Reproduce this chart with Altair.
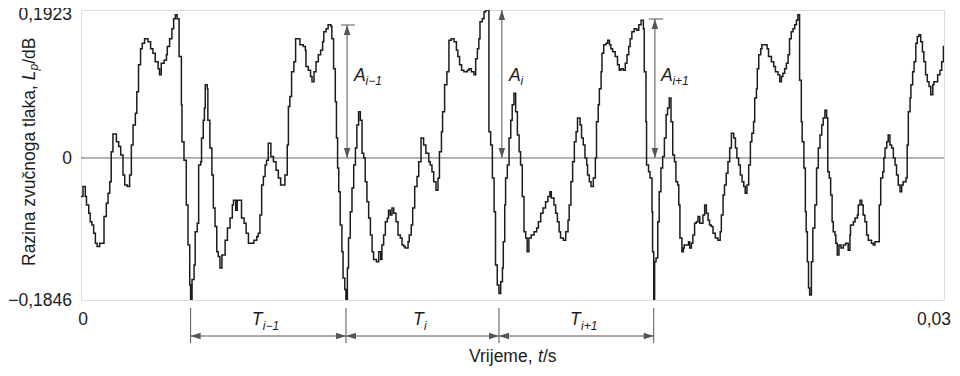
import altair as alt
import pandas as pd

# ---------------- waveform samples (time in ms, level in dB) ----------------
t_a = [0.00,0.07,0.15,0.19,0.27,0.32,0.38,0.44,0.50,0.56,0.65,0.80,0.88,0.94,1.00,1.05,1.11,1.23,1.31,1.38,
       1.46,1.52,1.61,1.69,1.75,1.81,1.89,1.94,2.00,2.07,2.13,2.21,2.33,2.42,2.50,2.58,2.68,2.73,2.79,2.89,
       2.97,3.00,3.08,3.16,3.22,3.28,3.34,3.41,3.49,3.51,3.58,3.66,3.72,3.78,3.81,3.86,3.93,3.97,4.04,4.09,4.16]
L_a = [-0.050,-0.037,-0.050,-0.061,-0.072,-0.083,-0.087,-0.098,-0.111,-0.115,-0.111,-0.076,-0.059,-0.046,-0.031,
       0.008,0.031,0.021,0.015,0.004,-0.022,-0.035,-0.037,-0.022,0.017,0.043,0.058,0.086,0.121,0.142,0.149,0.155,
       0.151,0.142,0.136,0.125,0.116,0.108,0.123,0.127,0.134,0.145,0.155,0.168,0.181,0.186,0.181,0.132,0.069,0.021,
       -0.003,-0.061,-0.113,-0.165,-0.1846,-0.158,-0.139,-0.096,-0.085,-0.009,-0.005]

t_b = [4.19,4.25,4.29,4.32,4.39,4.41,4.48,4.55,4.60,4.66,4.72,4.77,4.83,4.90,5.01,5.09,5.18,5.26,5.30,5.38,
       5.43,5.58,5.67,5.74,5.82,6.01,6.11,6.16,6.22,6.28,6.34,6.40,6.45,6.51,6.60,6.69,6.78,6.86,6.94,7.09,
       7.17,7.21,7.26,7.32,7.40,7.46,7.61,7.73,7.80,7.82,7.90,7.98,8.03,8.10,8.17,8.25,8.33,8.40]
L_b = [0.026,0.049,0.065,0.095,0.090,0.049,0.013,-0.022,-0.065,-0.089,-0.122,-0.128,-0.143,-0.126,-0.107,-0.091,
       -0.078,-0.061,-0.055,-0.068,-0.055,-0.078,-0.085,-0.098,-0.111,-0.107,-0.102,-0.098,-0.074,-0.035,-0.024,
       -0.009,-0.003,0.019,0.002,-0.005,-0.016,-0.026,-0.035,-0.022,0.017,0.067,0.080,0.112,0.125,0.155,0.147,
       0.145,0.140,0.119,0.114,0.106,0.099,0.112,0.125,0.134,0.140,0.151]

t_c = [8.44,8.52,8.59,8.69,8.72,8.78,8.84,8.88,8.92,8.96,9.01,9.07,9.11,9.17,9.21,9.26,9.30,9.36,9.42,9.48,
       9.54,9.59,9.65,9.71,9.77,9.83,9.88,9.94,10.00,10.06,10.12,10.17,10.27,10.35,10.42,10.46,10.52,10.58,10.65,
       10.69,10.75,10.81,10.87,10.95,11.02,11.10,11.16,11.22,11.27,11.37,11.41,11.48,11.53,11.60,11.68,11.74,
       11.82,11.91,11.99,12.09,12.14,12.20,12.26,12.34,12.41,12.46,12.53,12.57,12.64,12.72]
L_c = [0.164,0.168,0.173,0.171,0.155,0.116,0.073,0.026,-0.013,-0.044,-0.087,-0.122,-0.156,-0.171,-0.1846,
       -0.143,-0.104,-0.070,-0.039,-0.009,0.013,0.043,0.060,0.049,0.006,0.000,-0.031,-0.057,-0.078,-0.100,
       -0.122,-0.132,-0.135,-0.122,-0.132,-0.113,-0.100,-0.083,-0.078,-0.068,-0.074,-0.065,-0.072,-0.083,-0.100,
       -0.104,-0.113,-0.115,-0.117,-0.109,-0.100,-0.087,-0.065,-0.037,-0.024,-0.005,0.026,0.017,0.006,-0.005,
       -0.009,-0.018,-0.031,-0.042,-0.026,0.008,0.034,0.060,0.095,0.112]

t_d = [12.79,12.87,12.97,13.05,13.10,13.16,13.23,13.31,13.43,13.49,13.57,13.66,13.72,13.78,13.83,13.87,13.95,
       14.01,14.07,14.18,14.24,14.30,14.36,14.41,14.47,14.53,14.59,14.65,14.68,14.73,14.76,14.82,14.88,14.94,
       14.99,15.05,15.11,15.17,15.23,15.28,15.34,15.40,15.46,15.51,15.57,15.65,15.75,15.84,15.90,15.98,16.06,
       16.15,16.23,16.30,16.35,16.44,16.50,16.56,16.62,16.67,16.77,16.85,16.93]
L_d = [0.153,0.155,0.151,0.140,0.132,0.121,0.114,0.112,0.114,0.116,0.112,0.108,0.129,0.142,0.155,0.177,0.181,
       0.190,0.1923,0.034,0.017,-0.026,-0.070,-0.139,-0.165,-0.176,-0.161,-0.143,-0.109,-0.061,-0.026,-0.009,
       0.026,0.049,0.069,0.084,0.060,0.030,0.008,-0.009,-0.050,-0.096,-0.104,-0.122,-0.104,-0.100,-0.096,-0.091,
       -0.083,-0.072,-0.065,-0.057,-0.050,-0.044,-0.052,-0.061,-0.072,-0.083,-0.096,-0.104,-0.107,-0.096,-0.081]

t_e = [16.97,17.03,17.09,17.15,17.21,17.26,17.35,17.40,17.46,17.52,17.58,17.61,17.67,17.73,17.81,17.88,17.92,
       17.98,18.02,18.08,18.11,18.17,18.25,18.31,18.37,18.42,18.48,18.57,18.65,18.71,18.77,18.85,18.92,18.98,
       19.04,19.09,19.15,19.23,19.32,19.39,19.47,19.55,19.58,19.64,19.66,19.73,19.78,19.85,19.87,19.91,19.94,
       19.99,20.05,20.10,20.16,20.22,20.28,20.34,20.39,20.45,20.51,20.57,20.63,20.68,20.74,20.78,20.82,20.89,
       20.94,20.97,21.12]
L_e = [-0.061,-0.031,-0.005,0.021,0.034,0.052,0.043,0.026,0.017,0.000,-0.009,-0.022,-0.031,-0.037,-0.026,0.000,
       0.047,0.069,0.090,0.112,0.136,0.147,0.149,0.153,0.147,0.142,0.138,0.132,0.121,0.114,0.116,0.114,0.123,
       0.134,0.145,0.155,0.164,0.168,0.166,0.173,0.179,0.168,0.112,0.047,-0.009,-0.018,-0.026,-0.070,-0.122,
       -0.1846,-0.135,-0.130,-0.083,-0.044,-0.013,0.002,0.026,0.056,0.065,0.078,0.047,0.004,-0.005,-0.031,-0.035,
       -0.061,-0.104,-0.122,-0.117,-0.113,-0.109]

t_f = [21.16,21.22,21.27,21.33,21.39,21.45,21.51,21.62,21.68,21.74,21.80,21.85,21.91,21.97,22.05,22.14,22.22,
       22.26,22.32,22.37,22.43,22.49,22.55,22.61,22.69,22.75,22.80,22.86,22.92,22.98,23.04,23.09,23.15,23.21,
       23.27,23.32,23.38,23.42,23.48,23.51,23.56,23.63,23.67,23.85,23.90,24.00,24.08,24.14,24.23,24.29,24.35,
       24.40,24.46,24.52,24.58,24.63,24.69,24.75,24.81,24.87,24.92,24.98,25.04,25.07,25.13,25.18,25.21,25.25,
       25.29,25.33,25.39,25.44]
L_f = [-0.117,-0.111,-0.100,-0.085,-0.083,-0.076,-0.085,-0.074,-0.061,-0.072,-0.081,-0.087,-0.089,-0.098,-0.104,
       -0.107,-0.096,-0.074,-0.048,-0.035,-0.020,-0.005,0.013,0.032,0.026,0.013,0.000,-0.009,-0.022,-0.031,-0.037,
       -0.046,-0.035,-0.009,0.021,0.032,0.047,0.078,0.090,0.116,0.134,0.142,0.147,0.142,0.132,0.125,0.119,0.112,
       0.108,0.099,0.106,0.110,0.116,0.123,0.134,0.155,0.164,0.168,0.173,0.179,0.186,0.101,0.047,0.021,-0.013,
       -0.070,-0.096,-0.135,-0.169,-0.178,-0.135,-0.091]

t_g = [25.51,25.57,25.63,25.69,25.75,25.80,25.86,25.92,25.96,26.01,26.06,26.11,26.15,26.21,26.24,26.29,26.35,
       26.42,26.50,26.58,26.67,26.73,26.75,26.85,26.91,26.99,27.02,27.08,27.14,27.19,27.25,27.31,27.37,27.48,
       27.54,27.60,27.75,27.80,27.87,27.91,27.95,28.01,28.06,28.12,28.18,28.24,28.30,28.35,28.41,28.47,28.53,
       28.58,28.68,28.72,28.76,28.82,28.85,28.91,28.96,29.02,29.07,29.13,29.19,29.25,29.30,29.36,29.42,29.48,
       29.54,29.61,29.65,29.78,29.86,29.92,29.98,30.00]
L_g = [-0.061,-0.013,0.013,0.030,0.043,0.052,0.062,0.052,-0.018,-0.026,-0.048,-0.083,-0.096,-0.100,-0.111,
       -0.126,-0.113,-0.117,-0.113,-0.111,-0.120,-0.100,-0.087,-0.083,-0.078,-0.074,-0.061,-0.055,-0.061,-0.074,
       -0.083,-0.100,-0.107,-0.111,-0.113,-0.109,-0.061,-0.026,-0.018,0.000,0.013,0.021,0.030,0.017,0.013,0.000,
       -0.009,-0.022,-0.035,-0.044,-0.035,-0.031,-0.026,0.017,0.060,0.078,0.095,0.112,0.125,0.149,0.158,0.160,
       0.151,0.138,0.125,0.108,0.099,0.093,0.082,0.095,0.099,0.108,0.114,0.125,0.145,0.145]

t_ms = t_a + t_b + t_c + t_d + t_e + t_f + t_g
level = L_a + L_b + L_c + L_d + L_e + L_f + L_g

# ---------------- annotation values ----------------
y_ticks = [-0.1846, 0, 0.1923]
y_tick_labels = ["\u22120,1846", "0", "0,1923"]
x_ticks = [0, 0.03]
x_tick_labels = ["0", "0,03"]

period_marks_ms = [3.81, 9.21, 14.53, 19.91]        # T boundaries (minima)
period_label_ms = [5.94, 11.54, 17.00]               # where the T labels start
period_subs = ["i\u22121", "i", "i+1"]

amp_t_ms = [9.25, 14.63, 19.95]                      # A arrows
amp_top = [0.1728, 0.1923, 0.1806]
amp_label_ms = [9.49, 14.88, 20.16]
amp_label_level = [0.107, 0.107, 0.107]
amp_subs = ["i\u22121", "i", "i+1"]
cap_t1_ms = [9.04, 19.74]
cap_t2_ms = [9.52, 20.23]
cap_level = [0.1728, 0.1806]

# ---------------- frames ----------------
wave = pd.DataFrame({"t": [v / 1000 for v in t_ms], "L": level})
pm = pd.DataFrame({"t": [v / 1000 for v in period_marks_ms]})
pseg = pd.DataFrame({"t1": [v / 1000 for v in period_marks_ms[:-1]],
                     "t2": [v / 1000 for v in period_marks_ms[1:]]})
plab = pd.DataFrame({"t": [v / 1000 for v in period_label_ms], "sub": period_subs})
amp = pd.DataFrame({"t": [v / 1000 for v in amp_t_ms], "top": amp_top, "base": [0.0] * 3})
alab = pd.DataFrame({"t": [v / 1000 for v in amp_label_ms], "L": amp_label_level, "sub": amp_subs})
caps = pd.DataFrame({"t1": [v / 1000 for v in cap_t1_ms], "t2": [v / 1000 for v in cap_t2_ms], "L": cap_level})
xl = pd.DataFrame({"t": x_ticks, "lab": x_tick_labels})
yl = pd.DataFrame({"L": y_ticks, "lab": y_tick_labels})
one = pd.DataFrame({"a": [0]})

FONT = "Liberation Sans"
INK = "#1c1c1c"
GREY = "#555555"
FS = 17.5
SUB = 12

xs = alt.Scale(domain=[0, 0.03], nice=False, zero=False)
ys = alt.Scale(domain=[-0.1846, 0.1923], nice=False, zero=False)
X = lambda f: alt.X(f, type="quantitative", scale=xs, axis=None)
Y = lambda f: alt.Y(f, type="quantitative", scale=ys, axis=None)

LEFT = "M0,0L2,-0.65L2,0.65Z"
RIGHT = "M0,0L-2,-0.65L-2,0.65Z"
UP = "M0,0L-0.65,2L0.65,2Z"
DOWN = "M0,0L-0.65,-2L0.65,-2Z"

zero_line = alt.Chart(pd.DataFrame({"L": [0.0]})).mark_rule(color="#6a6a6a", strokeWidth=1).encode(y=Y("L"))

line = alt.Chart(wave).mark_line(interpolate="step-after", color=INK, strokeWidth=1.5, clip=True).encode(
    x=X("t"), y=Y("L"))

# y tick labels (the top one nudged down so it stays inside the page)
y_lab = alt.Chart(yl.iloc[[0, 1]]).mark_text(font=FONT, fontSize=FS, align="right", baseline="middle",
                                             dy=1, color=INK).encode(x=alt.value(-9), y=Y("L"), text="lab:N")
y_lab_top = alt.Chart(yl.iloc[[2]]).mark_text(font=FONT, fontSize=FS, align="right", baseline="middle",
                                              dy=5, color=INK).encode(x=alt.value(-9), y=Y("L"), text="lab:N")

# amplitude arrows
amp_rule = alt.Chart(amp).mark_rule(color=GREY, strokeWidth=1).encode(x=X("t"), y=Y("top"), y2="base")
amp_up = alt.Chart(amp).mark_point(shape=UP, filled=True, size=100, color=GREY, opacity=1).encode(x=X("t"), y=Y("top"))
amp_dn = alt.Chart(amp).mark_point(shape=DOWN, filled=True, size=100, color=GREY, opacity=1).encode(x=X("t"), y=Y("base"))
cap_rule = alt.Chart(caps).mark_rule(color=GREY, strokeWidth=1).encode(x=X("t1"), x2="t2", y=Y("L"))
a_txt = alt.Chart(alab).mark_text(text="A", font=FONT, fontSize=FS, fontStyle="italic", align="left",
                                   baseline="middle", color=INK).encode(x=X("t"), y=Y("L"))
a_sub = alt.Chart(alab).mark_text(font=FONT, fontSize=SUB, fontStyle="italic", align="left",
                                   baseline="middle", dx=11.5, dy=5, color=INK).encode(x=X("t"), y=Y("L"), text="sub:N")

# period markers below the axis
p_tick = alt.Chart(pm).mark_rule(color=GREY, strokeWidth=1).encode(x=X("t"), y=alt.value(298), y2=alt.value(333))
p_rule = alt.Chart(pseg).mark_rule(color=GREY, strokeWidth=1).encode(x=X("t1"), x2="t2", y=alt.value(326))
p_left = alt.Chart(pseg).mark_point(shape=LEFT, filled=True, size=100, color=GREY, opacity=1).encode(
    x=X("t1"), y=alt.value(326))
p_right = alt.Chart(pseg).mark_point(shape=RIGHT, filled=True, size=100, color=GREY, opacity=1).encode(
    x=X("t2"), y=alt.value(326))
t_txt = alt.Chart(plab).mark_text(text="T", font=FONT, fontSize=FS, fontStyle="italic", align="left",
                                   baseline="middle", color=INK).encode(x=X("t"), y=alt.value(310))
t_sub = alt.Chart(plab).mark_text(font=FONT, fontSize=SUB, fontStyle="italic", align="left",
                                   baseline="middle", dx=11, dy=6, color=INK).encode(
    x=X("t"), y=alt.value(310), text="sub:N")

# x tick labels
x_lab0 = alt.Chart(xl.iloc[[0]]).mark_text(font=FONT, fontSize=FS, align="center", baseline="middle",
                                           dx=2, color=INK).encode(x=X("t"), y=alt.value(310), text="lab:N")
x_lab1 = alt.Chart(xl.iloc[[1]]).mark_text(font=FONT, fontSize=FS, align="right", baseline="middle",
                                           dx=7, color=INK).encode(x=X("t"), y=alt.value(310), text="lab:N")

# axis titles (mixed upright / italic parts)
def seg(txt, x, y, size=FS, italic=False, angle=0):
    kw = dict(text=txt, font=FONT, fontSize=size, align="left", baseline="middle", color=INK, angle=angle)
    if italic:
        kw["fontStyle"] = "italic"
    return alt.Chart(one).mark_text(**kw).encode(x=alt.value(x), y=alt.value(y))

ytitle = [
    seg("Razina zvu\u010dnoga tlaka,", -51, 256, angle=270),
    seg("L", -51, 70.2, italic=True, angle=270),
    seg("p", -47, 60.5, size=SUB, italic=True, angle=270),
    seg("/dB", -51, 53.8, angle=270),
]
xtitle = [
    seg("Vrijeme,", 388, 347),
    seg("t", 457, 347, italic=True),
    seg("/s", 462, 347),
]

chart = alt.layer(
    zero_line, line, y_lab, y_lab_top, amp_rule, amp_up, amp_dn, cap_rule, a_txt, a_sub,
    p_tick, p_rule, p_left, p_right, t_txt, t_sub, x_lab0, x_lab1, *ytitle, *xtitle
).properties(
    width=863, height=290,
    autosize=alt.AutoSizeParams(type="none"),
    padding={"left": 73, "top": 2, "right": 8, "bottom": 68},
).configure_view(stroke="#2a2a2a", strokeWidth=1.5).configure(background="white")

chart.save("out.html", embed_options={"renderer": "svg", "actions": False})
